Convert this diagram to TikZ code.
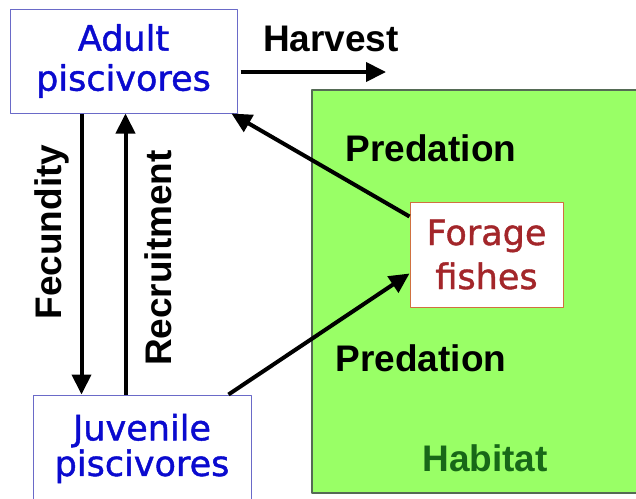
\documentclass[tikz,border=0pt]{standalone}
\usepackage{fontspec}
\setmainfont{Liberation Sans}
\newfontfamily\boxfont[FakeBold=1.2]{DejaVu Sans}
\usetikzlibrary{arrows.meta}
\definecolor{grass}{HTML}{99FF66}
\definecolor{grassrim}{HTML}{556B55}
\definecolor{habgreen}{HTML}{186818}
\definecolor{boxblue}{HTML}{0A0ACF}
\definecolor{rimblue}{HTML}{6A6AC8}
\definecolor{fishred}{HTML}{A3262A}
\definecolor{rimorange}{HTML}{D07040}
\begin{document}
\begin{tikzpicture}[x=0.5pt,y=-0.5pt,line join=round,>={Triangle[length=10pt,width=9.5pt]},
	box/.style={draw,fill=white,line width=0.5pt,inner sep=0pt,align=center},
	lab/.style={font=\fontsize{18.5}{22}\selectfont\bfseries},
	flow/.style={->,line width=2pt}]
	\useasboundingbox (0,0) rectangle (636,498);
	\fill[white] (0,0) rectangle (636,498);
	% habitat area
	\node[draw=grassrim,fill=grass,line width=0.75pt,minimum width=164.5pt,minimum height=201.5pt,inner sep=0pt,anchor=north west] (hab) at (311,89) {};
	% boxes
	\node[box,draw=rimblue,text=boxblue,minimum width=113.5pt,minimum height=52pt,font=\boxfont\fontsize{17.5}{20}\selectfont] (adult) at (123.5,61) {Adult\\piscivores};
	\node[box,draw=rimblue,text=boxblue,minimum width=109pt,minimum height=53.5pt,font=\boxfont\fontsize{17.5}{16}\selectfont] (juv) at (142,448.5) {Juvenile\\piscivores};
	\node[box,draw=rimorange,text=fishred,minimum width=76.5pt,minimum height=52.5pt,font=\boxfont\fontsize{17.5}{22}\selectfont] (forage) at (486.5,254.5) {Forage\\fishes};
	% labels
	\node[lab] (harv) at (331,39) {Harvest};
	\node[lab] (predA) at (431,148) {Predation};
	\node[lab] (predB) at (421,358) {Predation};
	\node[lab,text=habgreen] (habl) at (485,458) {Habitat};
	\node[lab,rotate=90] (fec) at (52,232) {Fecundity};
	\node[lab,rotate=90] (rec) at (158,258) {Recruitment};
	% arrows
	\coordinate (hx) at (386,72);
	\draw[flow] ([xshift=1.5pt,yshift=-5.5pt]adult.east) -- (hx);
	\draw[flow] ([xshift=36pt]adult.south west) -- ([xshift=36pt]adult.south west |- juv.north);
	\draw[flow] ([xshift=46.5pt]juv.north west) -- ([xshift=46.5pt]juv.north west |- adult.south);
	\draw[flow] ([yshift=-7.5pt]forage.north west) -- ([xshift=-3pt]adult.south east);
	\draw[flow] ([xshift=-11.5pt]juv.north east) -- ([yshift=17pt]forage.south west);
\end{tikzpicture}
\end{document}
